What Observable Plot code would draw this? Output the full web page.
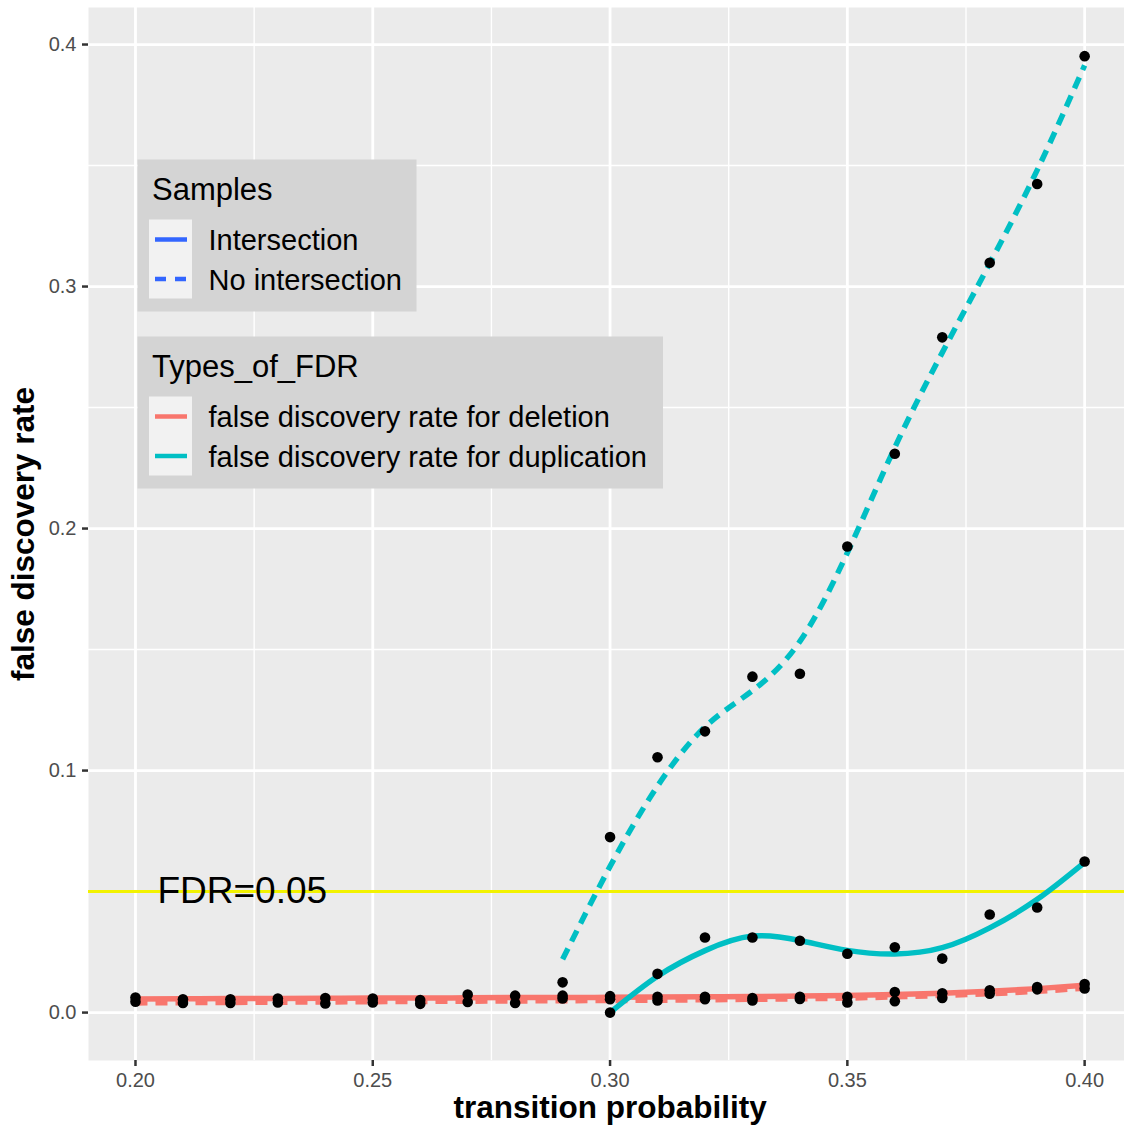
<!DOCTYPE html>
<html>
<head>
<meta charset="utf-8">
<script src="https://cdn.jsdelivr.net/npm/d3@7"></script>
<script src="https://cdn.jsdelivr.net/npm/@observablehq/plot@0.6"></script>
<style>
  html, body { margin: 0; padding: 0; background: white; }
  #chart { width: 1124px; height: 1126px; }
</style>
</head>
<body>
<div id="chart"></div>
<script>
// ---- data ----
const xs = [0.20, 0.21, 0.22, 0.23, 0.24, 0.25, 0.26, 0.27, 0.28, 0.29, 0.30,
            0.31, 0.32, 0.33, 0.34, 0.35, 0.36, 0.37, 0.38, 0.39, 0.40];

// observed FDR points
const delIntPts   = [0.0062, 0.0055, 0.0055, 0.0058, 0.0060, 0.0058, 0.0052, 0.0075, 0.0070, 0.0070, 0.0068,
                     0.0065, 0.0065, 0.0060, 0.0065, 0.0065, 0.0085, 0.0080, 0.0092, 0.0106, 0.0118];
const delNoIntPts = [0.0045, 0.0040, 0.0040, 0.0042, 0.0038, 0.0042, 0.0036, 0.0044, 0.0040, 0.0058, 0.0055,
                     0.0050, 0.0055, 0.0050, 0.0056, 0.0042, 0.0047, 0.0060, 0.0078, 0.0096, 0.0100];
const dupIntX     = [0.30, 0.31, 0.32, 0.33, 0.34, 0.35, 0.36, 0.37, 0.38, 0.39, 0.40];
const dupIntPts   = [0.0000, 0.0160, 0.0310, 0.0310, 0.0297, 0.0243, 0.0270, 0.0223, 0.0405, 0.0434, 0.0624];
const dupNoIntX   = [0.29, 0.30, 0.31, 0.32, 0.33, 0.34, 0.35, 0.36, 0.37, 0.38, 0.39, 0.40];
const dupNoIntPts = [0.0125, 0.0725, 0.1055, 0.1162, 0.1388, 0.1400, 0.1926, 0.2309, 0.2790, 0.3098, 0.3424, 0.3952];

// smoothed (loess) curves
const delIntFit   = [0.0056, 0.0057, 0.0058, 0.0058, 0.0059, 0.0060, 0.0060, 0.0061, 0.0062, 0.0062, 0.0063,
                     0.0064, 0.0065, 0.0066, 0.0068, 0.0071, 0.0075, 0.0080, 0.0088, 0.0099, 0.0113];
const delNoIntFit = [0.0040, 0.0041, 0.0042, 0.0043, 0.0044, 0.0045, 0.0046, 0.0047, 0.0048, 0.0049, 0.0050,
                     0.0051, 0.0053, 0.0055, 0.0057, 0.0060, 0.0065, 0.0071, 0.0078, 0.0088, 0.0101];
const dupIntFit   = [0.0000, 0.0150, 0.0256, 0.0316, 0.0298, 0.0257, 0.0242, 0.0268, 0.0350, 0.0468, 0.0621];
const dupNoIntFit = [0.0220, 0.0604, 0.0936, 0.1180, 0.1330, 0.1534, 0.1900, 0.2335, 0.2727, 0.3095, 0.3481, 0.3914];

const types   = ["false discovery rate for deletion", "false discovery rate for duplication"];
const samples = ["Intersection", "No intersection"];
const typeColors   = ["#F8766D", "#00BFC4"];
const sampleColor  = "#3366FF";

const xMajor = [0.20, 0.25, 0.30, 0.35, 0.40];
const xMinor = [0.225, 0.275, 0.325, 0.375];
const yMajor = [0.0, 0.1, 0.2, 0.3, 0.4];
const yMinor = [0.05, 0.15, 0.25, 0.35];
const xTickLabels = ["0.20", "0.25", "0.30", "0.35", "0.40"];
const yTickLabels = ["0.0", "0.1", "0.2", "0.3", "0.4"];

const fdrThreshold = 0.05;
const fdrLabel = "FDR=0.05";
const fdrLabelX = 0.2225;
const xTitle = "transition probability";
const xTitleAt = 0.30;
const yTitle = "false discovery rate";
const legendTitles = ["Samples", "Types_of_FDR"];

// ---- build tables ----
const rows = (x, y, type, sample) => x.map((v, i) => ({x: v, y: y[i], type, sample}));
const points = [
  ...rows(xs, delIntPts, types[0], samples[0]),
  ...rows(xs, delNoIntPts, types[0], samples[1]),
  ...rows(dupIntX, dupIntPts, types[1], samples[0]),
  ...rows(dupNoIntX, dupNoIntPts, types[1], samples[1])
];
const delSolid  = rows(xs, delIntFit, types[0], samples[0]);
const delDashed = rows(xs, delNoIntFit, types[0], samples[1]);
const dupSolid  = rows(dupIntX, dupIntFit, types[1], samples[0]);
const dupDashed = rows(dupNoIntX, dupNoIntFit, types[1], samples[1]);
const xTickRows = xMajor.map((v, i) => ({v, label: xTickLabels[i]}));
const yTickRows = yMajor.map((v, i) => ({v, label: yTickLabels[i]}));

const font = "'Liberation Sans', Arial, Helvetica, sans-serif";
const lw = 5.5;
const dash = "12,8";
const tickGray = "#4D4D4D";

const plot = Plot.plot({
  width: 1124,
  height: 1126,
  marginLeft: 88,
  marginRight: 0,
  marginTop: 7,
  marginBottom: 66,
  style: {fontFamily: font, fontSize: "20px", background: "white", overflow: "visible"},
  x: {domain: [0.1901, 0.4084]},
  y: {domain: [-0.0198, 0.4153]},
  color: {domain: types, range: typeColors},
  marks: [
    Plot.frame({fill: "#EBEBEB", stroke: null}),
    Plot.ruleX(xMinor, {stroke: "white", strokeWidth: 1.4}),
    Plot.ruleY(yMinor, {stroke: "white", strokeWidth: 1.4}),
    Plot.ruleX(xMajor, {stroke: "white", strokeWidth: 2.8}),
    Plot.ruleY(yMajor, {stroke: "white", strokeWidth: 2.8}),
    Plot.ruleY([fdrThreshold], {stroke: "#F2F200", strokeWidth: 3}),
    Plot.text([fdrLabel], {x: () => fdrLabelX, y: () => fdrThreshold, text: d => d,
      fontSize: 37, fill: "black", textAnchor: "middle", lineAnchor: "middle"}),
    Plot.line(delSolid, {x: "x", y: "y", stroke: "type", strokeWidth: lw,
      curve: "monotone-x", strokeLinecap: "butt"}),
    Plot.line(delDashed, {x: "x", y: "y", stroke: "type", strokeWidth: lw,
      curve: "monotone-x", strokeDasharray: dash, strokeLinecap: "butt"}),
    Plot.line(dupSolid, {x: "x", y: "y", stroke: "type", strokeWidth: lw,
      curve: "natural", strokeLinecap: "butt"}),
    Plot.line(dupDashed, {x: "x", y: "y", stroke: "type", strokeWidth: lw,
      curve: "natural", strokeDasharray: dash, strokeLinecap: "butt"}),
    Plot.dot(points, {x: "x", y: "y", r: 5.3, fill: "black", stroke: null}),
    // axis ticks (labels drawn separately at ggplot size)
    Plot.axisX(xMajor, {tickFormat: () => "", tickSize: 6, stroke: "#333333", strokeWidth: 2.5, label: null}),
    Plot.axisY(yMajor, {tickFormat: () => "", tickSize: 6, stroke: "#333333", strokeWidth: 2.5, label: null}),
    Plot.text(xTickRows, {x: "v", text: "label", frameAnchor: "bottom", dy: 12,
      fontSize: 20, fill: tickGray, textAnchor: "middle", lineAnchor: "top"}),
    Plot.text(yTickRows, {y: "v", text: "label", frameAnchor: "left", dx: -12,
      fontSize: 20, fill: tickGray, textAnchor: "end", lineAnchor: "middle"}),
    Plot.text([xTitle], {x: () => xTitleAt, frameAnchor: "bottom", dy: 47, text: d => d,
      fontSize: 31.5, fontWeight: "bold", fill: "black", textAnchor: "middle", lineAnchor: "middle"}),
    Plot.text([yTitle], {frameAnchor: "left", dx: -65, rotate: -90, text: d => d,
      fontSize: 31.5, fontWeight: "bold", fill: "black", textAnchor: "middle", lineAnchor: "middle"})
  ]
});

document.getElementById("chart").appendChild(plot);

// ---- in-panel legends (ggplot style) ----
const svg = d3.select(plot);
const lg = svg.append("g").attr("font-family", font).attr("text-anchor", "start");

function legendBox(box, title, labels, strokes, dashes) {
  const g = lg.append("g");
  g.append("rect").attr("x", box.x).attr("y", box.y).attr("width", box.w).attr("height", box.h)
    .attr("fill", "#D4D4D4");
  g.append("text").attr("x", box.x + 14.5).attr("y", box.y + 40).attr("font-size", 31)
    .attr("text-anchor", "start").attr("fill", "black").text(title);
  labels.forEach((lab, i) => {
    const ky = box.y + 60 + i * 39.5;
    g.append("rect").attr("x", box.x + 11.5).attr("y", ky).attr("width", 43).attr("height", 39.5)
      .attr("fill", "#F2F2F2");
    const ln = g.append("line").attr("x1", box.x + 17.5).attr("x2", box.x + 49.5)
      .attr("y1", ky + 20).attr("y2", ky + 20)
      .attr("stroke", strokes[i]).attr("stroke-width", 4.5);
    if (dashes[i]) ln.attr("stroke-dasharray", dashes[i]);
    g.append("text").attr("x", box.x + 71).attr("y", ky + 30.5).attr("font-size", 29)
      .attr("text-anchor", "start").attr("fill", "black").text(lab);
  });
}

legendBox({x: 137.5, y: 159.5, w: 279, h: 152}, legendTitles[0], samples,
  [sampleColor, sampleColor], [null, "11,9"]);
legendBox({x: 137.5, y: 336.5, w: 525.5, h: 152}, legendTitles[1], types,
  typeColors, [null, null]);
</script>
</body>
</html>
